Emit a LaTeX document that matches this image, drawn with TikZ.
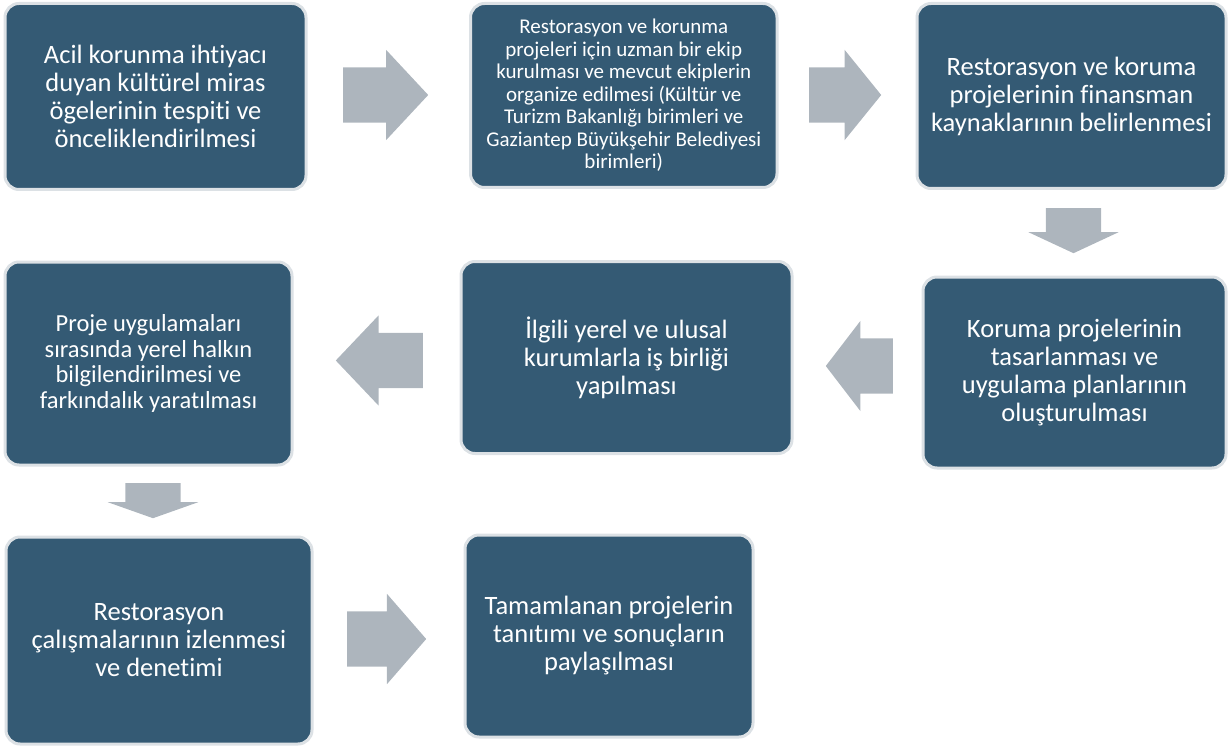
\documentclass[tikz,border=0pt]{standalone}
\usepackage{fontspec}
\setmainfont{Carlito}[Ligatures=NoCommon]
\usepackage{tikz}
\usetikzlibrary{shapes.arrows}

\definecolor{boxfill}{HTML}{345A74}
\definecolor{boxedge}{HTML}{DCE1E5}
\definecolor{arrowgray}{HTML}{ADB5BD}

\begin{document}
\begin{tikzpicture}[
    x=1pt, y=-1pt,
    stage/.style={rectangle, rounded corners=14pt, draw=boxedge, line width=3pt, fill=boxfill, text=white, align=center, inner sep=0pt, font=\fontsize{26.5}{28}\selectfont},
    flow/.style={single arrow, fill=arrowgray, draw=none, anchor=tail, inner xsep=0pt, inner ysep=27.5pt, minimum width=90pt, single arrow head extend=17.5pt},
    vflow/.style={flow, inner xsep=27.5pt, inner ysep=0pt, shape border rotate=270}
]
\useasboundingbox (0,0) rectangle (1229,746);

% Nodes
\node (tespit) [stage, minimum width=301pt, minimum height=186pt] at (155.5,96.5) {Acil korunma ihtiyacı\\duyan kültürel miras\\ögelerinin tespiti ve\\önceliklendirilmesi};
\node (ekip) [stage, minimum width=306.5pt, minimum height=184pt, font=\fontsize{21}{22.5}\selectfont] at (623.75,95.5) {Restorasyon ve korunma\\projeleri için uzman bir ekip\\kurulması ve mevcut ekiplerin\\organize edilmesi (Kültür ve\\Turizm Bakanlığı birimleri ve\\Gaziantep Büyükşehir Belediyesi\\birimleri)};
\node (finans) [stage, minimum width=309pt, minimum height=185pt] at (1071.5,96) {Restorasyon ve koruma\\projelerinin finansman\\kaynaklarının belirlenmesi};
\node (tasarim) [stage, minimum width=303pt, minimum height=191pt] at (1074.5,372.5) {Koruma projelerinin\\tasarlanması ve\\uygulama planlarının\\oluşturulması};
\node (isbirligi) [stage, minimum width=331pt, minimum height=192pt] at (626.5,357.5) {İlgili yerel ve ulusal\\kurumlarla iş birliği\\yapılması};
\node (halk) [stage, minimum width=287pt, minimum height=203pt, font=\fontsize{24.5}{25.5}\selectfont] at (148.5,363.5) {Proje uygulamaları\\sırasında yerel halkın\\bilgilendirilmesi ve\\farkındalık yaratılması};
\node (izleme) [stage, minimum width=306pt, minimum height=207pt] at (159,640.5) {Restorasyon\\çalışmalarının izlenmesi\\ve denetimi};
\node (tanitim) [stage, minimum width=288pt, minimum height=202pt] at (609,636) {Tamamlanan projelerin\\tanıtımı ve sonuçların\\paylaşılması};

% Arrows
\node (a1) [flow, minimum height=85pt, single arrow tip angle=94] at (343,95) {};
\node (a2) [flow, minimum height=72pt, single arrow tip angle=102] at (809,95) {};
\node (a3) [vflow, minimum height=45pt, single arrow tip angle=130] at (1073.5,208) {};
\node (a4) [flow, minimum height=67pt, single arrow tip angle=105, shape border rotate=180] at (893,366) {};
\node (a5) [flow, minimum height=87pt, single arrow tip angle=93, shape border rotate=180] at (423,360.5) {};
\node (a6) [vflow, minimum height=35pt, single arrow tip angle=141] at (153,483) {};
\node (a7) [flow, minimum height=79pt, single arrow tip angle=98] at (347,639) {};

\end{tikzpicture}
\end{document}
